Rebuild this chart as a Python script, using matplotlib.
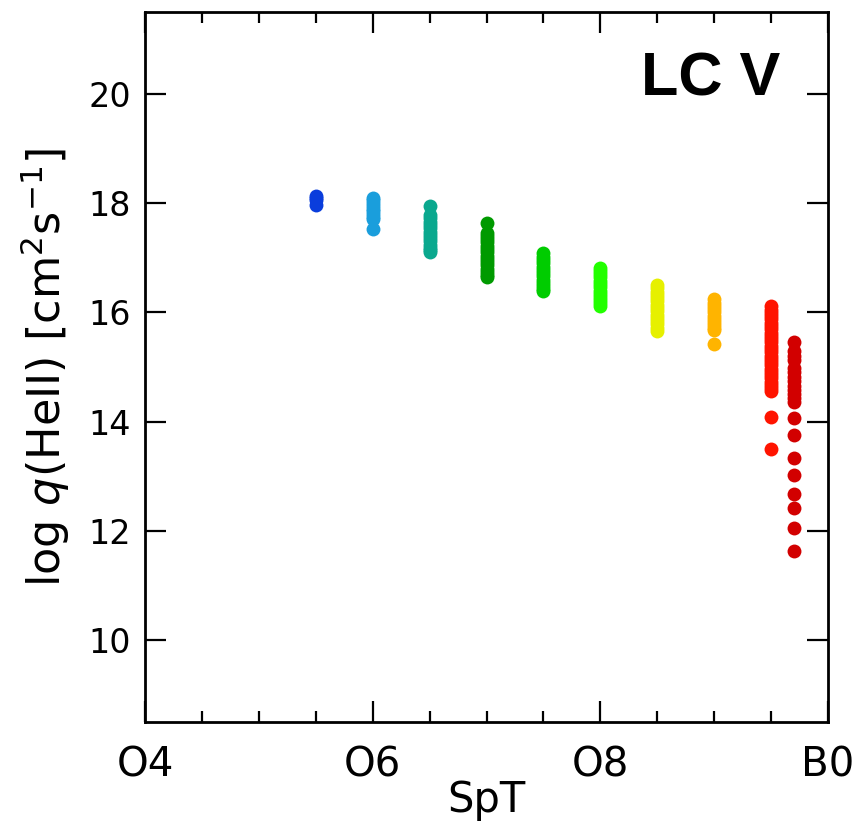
import matplotlib

matplotlib.use("Agg")
import matplotlib.pyplot as plt
from matplotlib.ticker import MultipleLocator

# spectral subtype (O4 = 4 ... B0 = 10) of each group and its log q(HeII) values
SPT = [5.5, 6.0, 6.5, 7.0, 7.5, 8.0, 8.5, 9.0, 9.5, 9.7]
LOGQ = [
    [18.14, 18.10, 18.05, 17.97],
    [18.10, 18.05, 18.00, 17.95, 17.90, 17.85, 17.80, 17.75, 17.71, 17.52],
    [17.94, 17.78, 17.72, 17.66, 17.60, 17.54, 17.48, 17.42, 17.36, 17.30,
     17.24, 17.18, 17.14, 17.10],
    [17.63, 17.45, 17.40, 17.34, 17.28, 17.22, 17.16, 17.10, 17.04, 16.98,
     16.92, 16.86, 16.80, 16.74, 16.69, 16.64],
    [17.08, 17.02, 16.96, 16.90, 16.84, 16.78, 16.72, 16.66, 16.60, 16.54,
     16.48, 16.43, 16.39],
    [16.82, 16.76, 16.70, 16.64, 16.58, 16.52, 16.46, 16.40, 16.34, 16.28,
     16.22, 16.17, 16.12],
    [16.50, 16.44, 16.38, 16.32, 16.26, 16.20, 16.14, 16.08, 16.02, 15.96,
     15.90, 15.84, 15.78, 15.72, 15.66],
    [16.24, 16.18, 16.12, 16.06, 16.00, 15.94, 15.88, 15.82, 15.76, 15.71,
     15.67, 15.42],
    [16.11, 16.05, 15.99, 15.93, 15.87, 15.81, 15.75, 15.69, 15.63, 15.57,
     15.51, 15.45, 15.39, 15.33, 15.27, 15.21, 15.15, 15.09, 15.03, 14.97,
     14.91, 14.85, 14.79, 14.73, 14.67, 14.61, 14.56, 14.08, 13.50],
    [15.46, 15.29, 15.20, 15.12, 14.98, 14.90, 14.82, 14.74, 14.66, 14.58,
     14.50, 14.43, 14.36, 14.07, 13.76, 13.34, 13.03, 12.68, 12.41, 12.06,
     11.64],
]
COLORS = ["#0a3ddc", "#1a9edc", "#0aa88e", "#009a00", "#00cc00",
          "#22ff00", "#e6f000", "#ffb400", "#ff1400", "#d20000"]
XTICKS = [4, 6, 8, 10]
XTICKLABELS = ["O4", "O6", "O8", "B0"]

fig = plt.figure(figsize=(8.53, 8.25), dpi=100)
ax = fig.add_axes([145 / 853, 103 / 825, 683 / 853, 710 / 825])

for x, ys, c in zip(SPT, LOGQ, COLORS):
    ax.scatter([x] * len(ys), ys, s=100, color=c, linewidths=0, zorder=3)

ax.set_xlim(4, 10)
ax.set_ylim(8.5, 21.5)
ax.set_xticks(XTICKS)
ax.set_xticklabels(XTICKLABELS)
ax.xaxis.set_minor_locator(MultipleLocator(0.5))
ax.set_yticks([10, 12, 14, 16, 18, 20])

ax.tick_params(which="both", direction="in", top=True, right=True, width=1.6)
ax.tick_params(which="major", length=15)
ax.tick_params(which="minor", length=8)
ax.tick_params(axis="y", labelsize=24, pad=10)
ax.tick_params(axis="x", labelsize=29, pad=17)
for sp in ax.spines.values():
    sp.set_linewidth(2)

ax.set_xlabel("SpT", fontsize=30, labelpad=-5)
ax.set_ylabel(r"log $q$(HeII) [cm$^2$s$^{-1}$]", fontsize=32, labelpad=12)
ax.text(0.93, 0.904, "LC V", transform=ax.transAxes, ha="right", va="center",
        fontsize=44, fontweight="bold", family=["Liberation Sans", "DejaVu Sans"])

fig.savefig("out.png")
